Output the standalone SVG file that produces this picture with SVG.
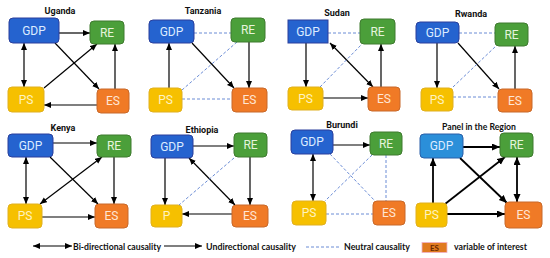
<svg xmlns="http://www.w3.org/2000/svg" width="550" height="258" viewBox="0 0 550 258">
<defs>
<marker id="ah" markerUnits="userSpaceOnUse" markerWidth="8" markerHeight="7" refX="7" refY="3" orient="auto-start-reverse">
<path d="M0,0 L7,3 L0,6 z" fill="#000"/>
</marker>
<marker id="ahb" markerUnits="userSpaceOnUse" markerWidth="9" markerHeight="8" refX="8" refY="3.5" orient="auto-start-reverse">
<path d="M0,0 L8,3.5 L0,7 z" fill="#000"/>
</marker>
</defs>
<style>
.gdp{fill:#2563cf;stroke:#2a3f9c;stroke-width:1}
.gdp2{fill:#2b8fd9;stroke:#2a5fa8;stroke-width:1}
.re{fill:#4b9f3a;stroke:#3f7a2f;stroke-width:1}
.ps{fill:#f6c000;stroke:#e0b020;stroke-width:1}
.es{fill:#f07a26;stroke:#c8692a;stroke-width:1}
.lbl{font-family:Roboto,"Liberation Sans",sans-serif;font-size:12px;text-anchor:middle}
.lg{fill:#dcecff}.lr{fill:#e6f4dc}.lp{fill:#fff3c0}.le{fill:#ffe6d4}
.ttl{font-family:Roboto,"Liberation Sans",sans-serif;font-size:9px;font-weight:bold;text-anchor:middle;fill:#111}
.a{stroke:#000;stroke-width:1.2;fill:none;marker-end:url(#ah)}
.b{stroke:#000;stroke-width:1.2;fill:none;marker-start:url(#ah);marker-end:url(#ah)}
.ab{stroke:#000;stroke-width:1.8;fill:none;marker-end:url(#ahb)}
.bb{stroke:#000;stroke-width:1.8;fill:none;marker-start:url(#ahb);marker-end:url(#ahb)}
.n{stroke:#5a7fd0;stroke-width:0.9;stroke-dasharray:3,2;fill:none}
.leg{font-family:Lato,"Liberation Sans",sans-serif;font-size:10px;font-weight:bold;fill:#111}
</style>
<rect width="550" height="258" fill="#fff"/>

<!-- Titles -->
<g id="titles">
<text class="ttl" x="60" y="14">Uganda</text>
<text class="ttl" x="203" y="14">Tanzania</text>
<text class="ttl" x="337" y="16">Sudan</text>
<text class="ttl" x="471" y="17">Rwanda</text>
<text class="ttl" x="63" y="131">Kenya</text>
<text class="ttl" x="202" y="133">Ethiopia</text>
<text class="ttl" x="342" y="128">Burundi</text>
<text class="ttl" x="479" y="130" style="font-family:Lato,'Liberation Sans',sans-serif" textLength="74" lengthAdjust="spacingAndGlyphs">Panel in the Region</text>
</g>

<!-- Connectors -->
<g id="connectors">
<!-- Uganda -->
<line class="a" x1="59" y1="33" x2="90" y2="33"/>
<line class="b" x1="24" y1="43" x2="24" y2="87"/>
<line class="a" x1="55" y1="43" x2="99" y2="89"/>
<line class="a" x1="44" y1="88" x2="97" y2="44"/>
<line class="a" x1="115" y1="89" x2="115" y2="44"/>
<line class="a" x1="97" y1="105" x2="44" y2="105"/>
<!-- Tanzania -->
<line class="n" x1="194" y1="33" x2="231" y2="33"/>
<line class="a" x1="169" y1="88" x2="169" y2="43"/>
<line class="a" x1="192" y1="43" x2="234" y2="88"/>
<line class="a" x1="249" y1="42" x2="249" y2="88"/>
<line class="n" x1="182" y1="90" x2="237" y2="42"/>
<line class="n" x1="182" y1="99" x2="232" y2="99"/>
<!-- Sudan -->
<line class="n" x1="328" y1="33" x2="360" y2="33"/>
<line class="a" x1="306" y1="43" x2="306" y2="87"/>
<line class="b" x1="330" y1="43" x2="373" y2="87"/>
<line class="n" x1="320" y1="87" x2="362" y2="44"/>
<line class="a" x1="323" y1="98" x2="368" y2="98"/>
<line class="a" x1="381" y1="87" x2="381" y2="44"/>
<!-- Rwanda -->
<line class="n" x1="459" y1="33" x2="495" y2="33"/>
<line class="a" x1="437" y1="43" x2="437" y2="88"/>
<line class="a" x1="458" y1="43" x2="499" y2="89"/>
<line class="n" x1="453" y1="87" x2="496" y2="46"/>
<line class="n" x1="453" y1="97" x2="498" y2="97"/>
<line class="a" x1="515" y1="89" x2="515" y2="46"/>
<!-- Kenya -->
<line class="a" x1="53" y1="143" x2="97" y2="143"/>
<line class="b" x1="26" y1="157" x2="26" y2="204"/>
<line class="a" x1="50" y1="157" x2="98" y2="204"/>
<line class="b" x1="102" y1="157" x2="40" y2="204"/>
<line class="a" x1="114" y1="157" x2="114" y2="204"/>
<line class="a" x1="42" y1="217" x2="95" y2="217"/>
<!-- Ethiopia -->
<line class="a" x1="193" y1="146" x2="234" y2="146"/>
<line class="a" x1="165" y1="158" x2="165" y2="205"/>
<line class="b" x1="189" y1="158" x2="235" y2="205"/>
<line class="n" x1="234" y1="158" x2="179" y2="205"/>
<line class="a" x1="250" y1="157" x2="250" y2="205"/>
<line class="a" x1="232" y1="214" x2="182" y2="214"/>
<!-- Burundi -->
<line class="a" x1="333" y1="145" x2="370" y2="145"/>
<line class="b" x1="313" y1="154" x2="313" y2="201"/>
<line class="n" x1="330" y1="154" x2="375" y2="201"/>
<line class="n" x1="372" y1="155" x2="325" y2="201"/>
<line class="n" x1="386" y1="155" x2="386" y2="201"/>
<line class="n" x1="326" y1="214" x2="373" y2="214"/>
<!-- Panel -->
<line class="ab" x1="463" y1="147" x2="500" y2="147"/>
<line class="ab" x1="433" y1="203" x2="433" y2="158"/>
<line class="ab" x1="460" y1="158" x2="507" y2="203"/>
<line class="ab" x1="445" y1="204" x2="505" y2="157"/>
<line class="bb" x1="517" y1="157" x2="517" y2="202"/>
<line class="ab" x1="447" y1="214" x2="505" y2="214"/>
</g>

<!-- Uganda nodes -->
<g id="uganda-gdp"><rect class="gdp" x="9" y="18" width="50" height="25" rx="4"/><text class="lbl lg" x="34" y="35">GDP</text></g>
<g id="uganda-re"><rect class="re" x="90" y="21" width="34" height="23" rx="4"/><text class="lbl lr" x="107" y="37">RE</text></g>
<g id="uganda-ps"><rect class="ps" x="8" y="87" width="36" height="25" rx="4"/><text class="lbl lp" x="26" y="104">PS</text></g>
<g id="uganda-es"><rect class="es" x="97" y="89" width="32" height="24" rx="4"/><text class="lbl le" x="113" y="105">ES</text></g>

<!-- Tanzania nodes -->
<g id="tanzania-gdp"><rect class="gdp" x="149" y="20" width="45" height="23" rx="4"/><text class="lbl lg" x="171.5" y="36">GDP</text></g>
<g id="tanzania-re"><rect class="re" x="231" y="18" width="34" height="24" rx="4"/><text class="lbl lr" x="248" y="34">RE</text></g>
<g id="tanzania-ps"><rect class="ps" x="149" y="88" width="33" height="24" rx="4"/><text class="lbl lp" x="165.5" y="104">PS</text></g>
<g id="tanzania-es"><rect class="es" x="232" y="88" width="35" height="24" rx="4"/><text class="lbl le" x="249.5" y="104">ES</text></g>

<!-- Sudan nodes -->
<g id="sudan-gdp"><rect class="gdp" x="288" y="20" width="40" height="23"/><text class="lbl lg" x="308" y="36">GDP</text></g>
<g id="sudan-re"><rect class="re" x="360" y="19" width="35" height="25" rx="4"/><text class="lbl lr" x="377.5" y="36">RE</text></g>
<g id="sudan-ps"><rect class="ps" x="288" y="87" width="35" height="23" rx="4"/><text class="lbl lp" x="305.5" y="103">PS</text></g>
<g id="sudan-es"><rect class="es" x="368" y="87" width="32" height="24" rx="4"/><text class="lbl le" x="384" y="103">ES</text></g>

<!-- Rwanda nodes -->
<g id="rwanda-gdp"><rect class="gdp" x="416" y="22" width="43" height="21" rx="4"/><text class="lbl lg" x="437.5" y="37">GDP</text></g>
<g id="rwanda-re"><rect class="re" x="495" y="23" width="33" height="23" rx="4"/><text class="lbl lr" x="511.5" y="39">RE</text></g>
<g id="rwanda-ps"><rect class="ps" x="421" y="88" width="32" height="23" rx="4"/><text class="lbl lp" x="437" y="104">PS</text></g>
<g id="rwanda-es"><rect class="es" x="498" y="89" width="34" height="23" rx="4"/><text class="lbl le" x="515" y="105">ES</text></g>

<!-- Kenya nodes -->
<g id="kenya-gdp"><rect class="gdp" x="8" y="134" width="45" height="23" rx="4"/><text class="lbl lg" x="30.5" y="150">GDP</text></g>
<g id="kenya-re"><rect class="re" x="97" y="135" width="34" height="22" rx="4"/><text class="lbl lr" x="114" y="150">RE</text></g>
<g id="kenya-ps"><rect class="ps" x="8" y="204" width="34" height="24" rx="4"/><text class="lbl lp" x="25" y="220">PS</text></g>
<g id="kenya-es"><rect class="es" x="95" y="204" width="33" height="24" rx="4"/><text class="lbl le" x="111.5" y="220">ES</text></g>

<!-- Ethiopia nodes -->
<g id="ethiopia-gdp"><rect class="gdp" x="151" y="135" width="42" height="23" rx="4"/><text class="lbl lg" x="172" y="151">GDP</text></g>
<g id="ethiopia-re"><rect class="re" x="234" y="133" width="33" height="24" rx="4"/><text class="lbl lr" x="250.5" y="149">RE</text></g>
<g id="ethiopia-p"><rect class="ps" x="151" y="205" width="31" height="22" rx="4"/><text class="lbl lp" x="166.5" y="220">P</text></g>
<g id="ethiopia-es"><rect class="es" x="232" y="205" width="36" height="22" rx="4"/><text class="lbl le" x="250" y="220">ES</text></g>

<!-- Burundi nodes -->
<g id="burundi-gdp"><rect class="gdp" x="291" y="130" width="42" height="24" rx="4"/><text class="lbl lg" x="312" y="146">GDP</text></g>
<g id="burundi-re"><rect class="re" x="370" y="132" width="32" height="23" rx="4"/><text class="lbl lr" x="386" y="148">RE</text></g>
<g id="burundi-ps"><rect class="ps" x="292" y="201" width="34" height="24" rx="4"/><text class="lbl lp" x="309" y="217">PS</text></g>
<g id="burundi-es"><rect class="es" x="373" y="201" width="32" height="24" rx="4"/><text class="lbl le" x="389" y="217">ES</text></g>

<!-- Panel nodes -->
<g id="panel-gdp"><rect class="gdp2" x="420" y="134" width="43" height="24" rx="4"/><text class="lbl lg" x="441.5" y="150">GDP</text></g>
<g id="panel-re"><rect class="re" x="500" y="133" width="33" height="24" rx="4"/><text class="lbl lr" x="516.5" y="149">RE</text></g>
<g id="panel-ps"><rect class="ps" x="416" y="203" width="31" height="24" rx="4"/><text class="lbl lp" x="431.5" y="219">PS</text></g>
<g id="panel-es"><rect class="es" x="505" y="202" width="37" height="26" rx="4"/><text class="lbl le" x="523.5" y="219">ES</text></g>

<!-- Legend -->
<g id="legend">
<line class="b" x1="33" y1="246" x2="72" y2="246"/>
<text class="leg" x="73" y="249.5" textLength="88" lengthAdjust="spacingAndGlyphs">Bi-directional causality</text>
<line class="a" x1="164" y1="246" x2="202" y2="246"/>
<text class="leg" x="206" y="249.5" textLength="90" lengthAdjust="spacingAndGlyphs">Undirectional causality</text>
<line class="n" x1="306" y1="247" x2="340" y2="247"/>
<text class="leg" x="344" y="249.5" textLength="66" lengthAdjust="spacingAndGlyphs">Neutral causality</text>
<rect x="422" y="242.5" width="25" height="10" fill="#e07a20" stroke="#f0b0c8" stroke-width="0.8"/>
<text x="434.5" y="250.5" style="font-family:Lato,'Liberation Sans',sans-serif;font-size:8px;font-weight:bold;fill:#6a2800;text-anchor:middle">ES</text>
<text class="leg" x="454" y="249.5" textLength="73" lengthAdjust="spacingAndGlyphs">variable of interest</text>
</g>
</svg>
